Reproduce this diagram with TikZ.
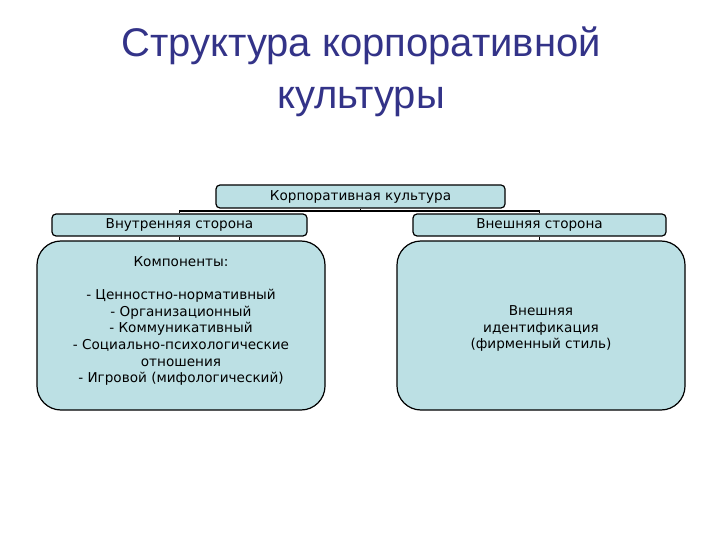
\documentclass[tikz,border=0pt]{standalone}
\usepackage{fontspec}
\setmainfont{DejaVu Sans}
\newfontfamily\titlefont{Liberation Sans}
\definecolor{boxfill}{RGB}{188,224,228}
\definecolor{titleblue}{RGB}{51,51,136}
\tikzset{
  box/.style={draw=black, line width=1.2pt, fill=boxfill, rounded corners=4pt, inner sep=0pt, font=\fontsize{13.6}{16.7}\selectfont},
  bigbox/.style={box, rounded corners=24pt, align=center},
  conn/.style={draw=black, line width=1.4pt}
}
\begin{document}
\begin{tikzpicture}[x=1pt,y=-1pt]
\useasboundingbox (0,0) rectangle (720,540);
\node[font=\titlefont\fontsize{40}{52}\selectfont, text=titleblue, align=center] (title) at (361,72) {Структура корпоративной\\культуры};
\node[box, minimum width=289pt, minimum height=23pt] (top) at (360.5,196.5) {Корпоративная культура};
\node[box, minimum width=255pt, minimum height=22pt] (lmid) at (179.5,225) {Внутренняя сторона};
\node[box, minimum width=253pt, minimum height=22pt] (rmid) at (539.5,225) {Внешняя сторона};
\node[bigbox, minimum width=288pt, minimum height=169pt] (lbig) at (181,325.5) {};
\node[align=center, inner sep=0pt, font=\fontsize{13.6}{16.7}\selectfont] (ltext) at (181,321) {Компоненты:\\[16.7pt]- Ценностно-нормативный\\- Организационный\\- Коммуникативный\\- Социально-психологические\\отношения\\- Игровой (мифологический)};
\node[bigbox, minimum width=288pt, minimum height=169pt] (rbig) at (541,325.5) {};
\node[align=center, inner sep=0pt, font=\fontsize{13.6}{16.7}\selectfont] (rtext) at (541,328.5) {Внешняя\\идентификация\\ (фирменный стиль)};
\coordinate (bus) at (0,211);
\draw[conn] (top.south) -- (top.south |- bus);
\draw[conn] (lmid.north) -- (lmid.north |- bus) -- (rmid.north |- bus) -- (rmid.north);
\draw[conn] (lmid.south) -- (lmid.south |- lbig.north);
\draw[conn] (rmid.south) -- (rmid.south |- rbig.north);
\end{tikzpicture}
\end{document}
